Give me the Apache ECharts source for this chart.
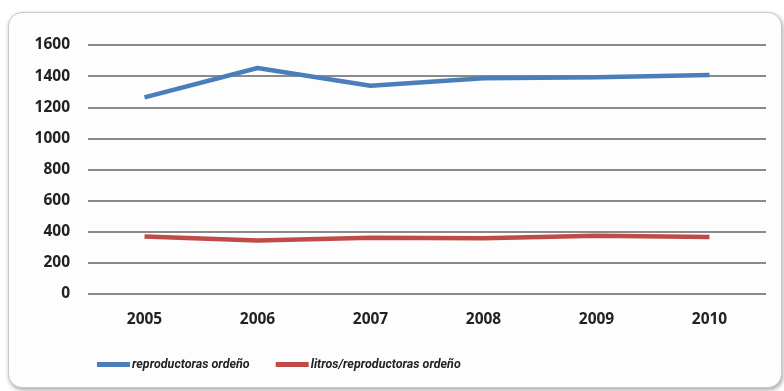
<!DOCTYPE html>
<html>
<head>
<meta charset="utf-8">
<script src="https://cdn.jsdelivr.net/npm/echarts@6/dist/echarts.min.js"></script>
<style>
    html, body { margin: 0; padding: 0; background: #ffffff; }
    .frame {
        position: absolute; left: 8px; top: 12px; width: 772px; height: 374px;
        border: 1px solid #c8c8c8; border-radius: 14px;
        box-shadow: 1px 2px 4px rgba(0,0,0,0.35);
        background: #fdfdfd;
    }
    #main { position: absolute; left: 0; top: 0; width: 784px; height: 391px; }
</style>
</head>
<body>
<div class="frame"></div>
<div id="main"></div>
<script>
// datos
var years = ['2005', '2006', '2007', '2008', '2009', '2010'];
var reproductoras = [1263, 1452, 1338, 1387, 1392, 1408];
var litrosPorReproductora = [370, 344, 361, 359, 374, 366];
var yTicks = [0, 200, 400, 600, 800, 1000, 1200, 1400, 1600];

var myChart = echarts.init(document.getElementById('main'));

var labelFont = {
    fontFamily: 'Open Sans',
    fontWeight: 'bold',
    fontSize: 15.5,
    color: '#222'
};

option = {
    animation: false,
    grid: {
        left: 88,
        right: 18,
        top: 45,
        bottom: 97
    },
    legend: {
        bottom: 15,
        left: 92,
        icon: 'rect',
        itemWidth: 33,
        itemHeight: 5,
        itemGap: 26,
        textStyle: {
            fontFamily: 'Roboto',
            fontWeight: 'bold',
            fontStyle: 'italic',
            fontSize: 12.5,
            color: '#222',
            padding: [0, 0, 0, -3]
        },
        data: ['reproductoras ordeño', 'litros/reproductoras ordeño']
    },
    xAxis: {
        type: 'category',
        data: years,
        axisLine: { show: false },
        axisTick: { show: false },
        axisLabel: Object.assign({ margin: 18 }, labelFont)
    },
    yAxis: {
        type: 'value',
        min: yTicks[0],
        max: yTicks[yTicks.length - 1],
        interval: 200,
        axisLabel: Object.assign({
            margin: 18,
            formatter: function (v) { return String(v); }
        }, labelFont),
        splitLine: {
            lineStyle: { color: '#8a8a8a', width: 2 }
        }
    },
    series: [
        {
            name: 'reproductoras ordeño',
            type: 'line',
            data: reproductoras,
            symbol: 'none',
            lineStyle: { width: 4.5, color: '#4a7ebb' },
            itemStyle: { color: '#4a7ebb' }
        },
        {
            name: 'litros/reproductoras ordeño',
            type: 'line',
            data: litrosPorReproductora,
            symbol: 'none',
            lineStyle: { width: 4.5, color: '#be4b48' },
            itemStyle: { color: '#be4b48' }
        }
    ]
};
myChart.setOption(option, true);
</script>
</body>
</html>
